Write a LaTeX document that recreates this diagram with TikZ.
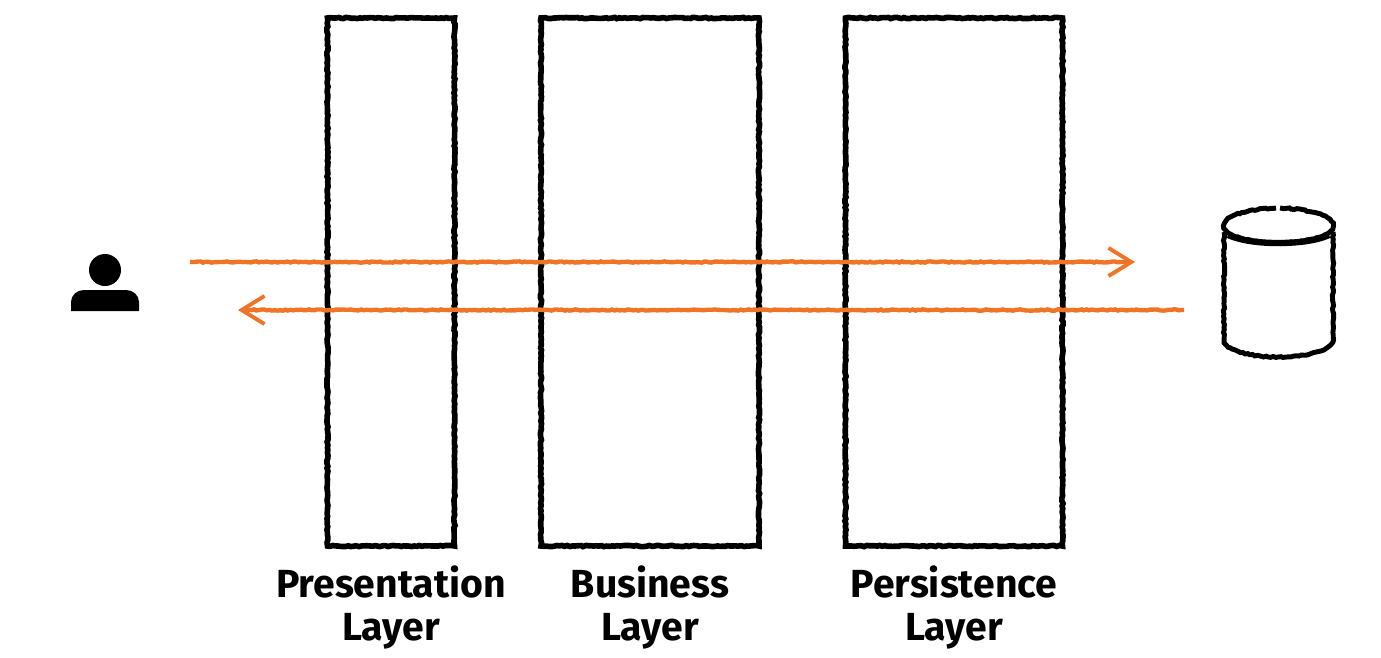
\documentclass[tikz,border=0pt]{standalone}
\usepackage{fontspec}
\setmainfont{Fira Sans}
\usepackage{xcolor}
\usetikzlibrary{arrows.meta,decorations.pathmorphing}
\definecolor{flowcolor}{HTML}{EF7426}
\tikzset{
	rough/.style={decorate, decoration={random steps, segment length=1.5pt, amplitude=0.35pt}},
	layerbox/.style={draw=black, rough, line width=3.2pt, inner sep=0pt, outer sep=0pt, minimum height=528*0.02cm},
	layerlabel/.style={font=\fontsize{22.3}{25}\selectfont\bfseries, align=center, anchor=north},
	flow/.style={draw=flowcolor, rough, decoration={post length=8pt}, line width=2.5pt, -{Straight Barb[length=13pt, width=16pt, line width=2.2pt]}},
	dbline/.style={draw=black, rough, line width=2.8pt},
}
\begin{document}
\begin{tikzpicture}[x=0.02cm, y=-0.02cm, color=black]
		\useasboundingbox (0,0) rectangle (1381,657);
		\foreach \layer/\xc/\boxw/\first in {presentation/391/127/Presentation, business/650/218/Business, persistence/954/217/Persistence}{
			\node[layerbox, minimum width=\boxw*0.02cm] (\layer) at (\xc,282) {};
			\node[layerlabel] (\layer label) at (\xc,559) {\first\\Layer};
		}
		
		% user
		\node[circle, fill=black, inner sep=0pt, minimum size=32*0.02cm] (head) at (105,270) {};
		\fill (71,311) -- (71,302) to[out=90, in=180] (84,290) -- (126,290) to[out=0, in=90] (139,302) -- (139,311) -- cycle;
		
		% database
		\draw[dbline] (1276,208) .. controls (1245,209) and (1224,216) .. (1224,226) .. controls (1224,236) and (1250,243) .. (1278,243) .. controls (1306,243) and (1333,236) .. (1333,226) .. controls (1333,216) and (1311,209) .. (1280,208);
		\draw[draw=black, line width=3.6pt] (1228,235) .. controls (1242,241) and (1260,243) .. (1278,243) .. controls (1296,243) and (1316,241) .. (1329,235);
		\draw[dbline] (1224,232) -- (1224,340) .. controls (1224,350) and (1250,357) .. (1278,357) .. controls (1306,357) and (1333,350) .. (1333,340) -- (1333,232);
		
		\coordinate (userOut) at (190,262);
		\coordinate (dbIn) at (1135,262);
		\coordinate (dbOut) at (1184,310);
		\coordinate (userIn) at (238,310);
		\draw[flow] (userOut) -- (dbIn);
		\draw[flow] (dbOut) -- (userIn);
	\end{tikzpicture}
\end{document}
